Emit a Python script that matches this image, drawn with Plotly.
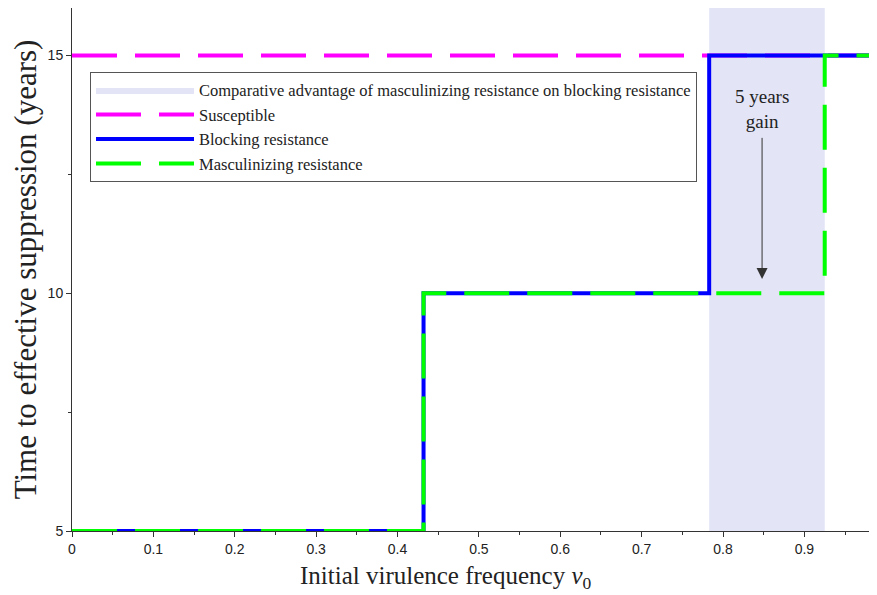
import plotly.graph_objects as go

# Data
shade_x = [0.783, 0.925]
susc_x = [0.0, 0.99]
susc_y = [15, 15]
block_x = [0.0, 0.432, 0.783, 0.99]
block_y = [5, 10, 15, 15]
masc_x = [0.0, 0.432, 0.925, 0.99]
masc_y = [5, 10, 15, 15]
arrow_x = 0.848
arrow_from = 13.3
arrow_to = 10.3
annot_text = "5 years<br>gain"
x_title = "Initial virulence frequency <i>v</i><sub>0</sub>"
y_title = "Time to effective suppression (years)"

serif = "Liberation Serif"
sans = "Liberation Sans"

fig = go.Figure()
fig.add_trace(go.Scatter(
    x=[shade_x[0], shade_x[1], shade_x[1], shade_x[0], shade_x[0]],
    y=[5, 5, 16, 16, 5], fill="toself", fillcolor="#e3e4f6",
    line=dict(width=0, color="#e3e4f6"), mode="lines",
    name="Comparative advantage of masculinizing resistance on blocking resistance",
    hoverinfo="skip"))
fig.add_trace(go.Scatter(x=susc_x, y=susc_y, mode="lines", name="Susceptible",
                         line=dict(color="#ff00ff", width=4, dash="45px,18px")))
fig.add_trace(go.Scatter(x=block_x, y=block_y, mode="lines", name="Blocking resistance",
                         line=dict(color="#0000ff", width=4, shape="hv")))
fig.add_trace(go.Scatter(x=masc_x, y=masc_y, mode="lines", name="Masculinizing resistance",
                         line=dict(color="#00ff00", width=4, shape="hv", dash="45px,18px")))

fig.add_annotation(x=arrow_x, y=arrow_to, ax=arrow_x, ay=arrow_from, xref="x", yref="y",
                   axref="x", ayref="y", showarrow=True, arrowhead=2, arrowsize=2.2,
                   arrowwidth=1, arrowcolor="#333333", text="")
fig.add_annotation(x=arrow_x, y=arrow_from, xref="x", yref="y", text=annot_text,
                   showarrow=False, yanchor="bottom", yshift=2,
                   font=dict(family=serif, size=19, color="#222"))
fig.add_annotation(x=0.465, y=0, xref="paper", yref="paper", yshift=-46,
                   xanchor="center", yanchor="middle", showarrow=False, text=x_title,
                   font=dict(family=serif, size=25, color="#222"))

fig.update_layout(
    width=869, height=587,
    margin=dict(l=64, r=1, t=0, b=64),
    plot_bgcolor="white", paper_bgcolor="white",
    showlegend=True,
    legend=dict(x=0.0224, y=0.878, xanchor="left", yanchor="top",
                bgcolor="white", bordercolor="#555555", borderwidth=1,
                itemwidth=98, tracegroupgap=0,
                font=dict(family=serif, size=16.5, color="#222")),
    xaxis=dict(range=[0, 0.988], tickvals=[0, 0.1, 0.2, 0.3, 0.4, 0.5, 0.6, 0.7, 0.8, 0.9],
               ticktext=["0", "0.1", "0.2", "0.3", "0.4", "0.5", "0.6", "0.7", "0.8", "0.9"],
               ticks="outside", ticklen=5, tickcolor="#333", showline=True, linecolor="#333",
               mirror=True, showgrid=False, zeroline=False, automargin=False,
               minor=dict(dtick=0.05, tick0=0, ticks="outside", ticklen=3, tickcolor="#333"),
               tickfont=dict(family=sans, size=14, color="#222")),
    yaxis=dict(range=[5, 16], tickvals=[5, 10, 15], ticks="outside", ticklen=5,
               tickcolor="#333", showline=True, linecolor="#333", showgrid=False, zeroline=False,
               automargin=False,
               minor=dict(dtick=2.5, tick0=5, ticks="outside", ticklen=3, tickcolor="#333"),
               tickfont=dict(family=sans, size=14, color="#222"),
               title=dict(text=y_title,
                          font=dict(family=serif, size=31, color="#222"), standoff=4)),
)
fig.write_html("out.html")
